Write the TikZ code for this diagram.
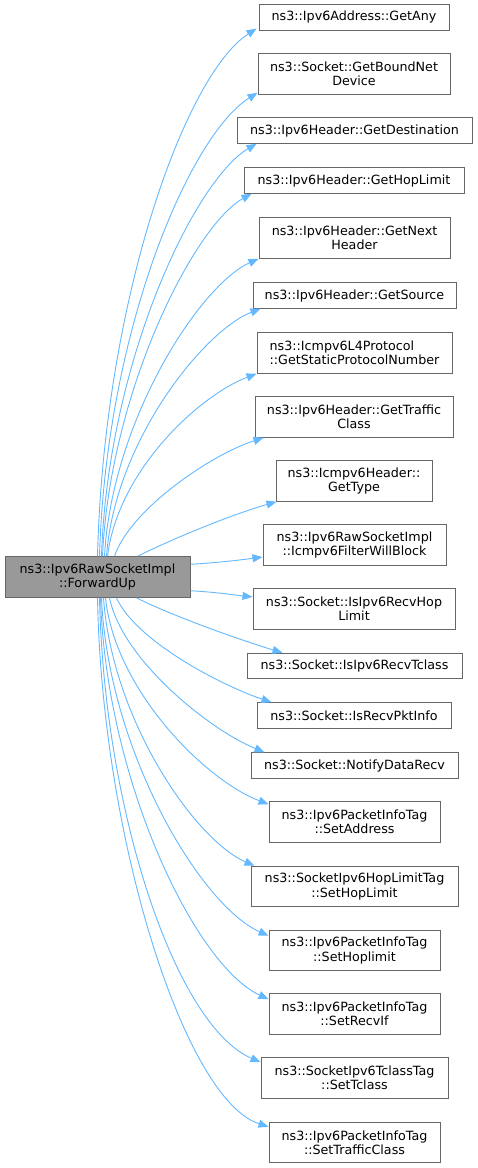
\documentclass[tikz,border=0pt]{standalone}
\usepackage{fontspec}
\setmainfont{DejaVu Sans}
\usetikzlibrary{arrows.meta}
\definecolor{edgeblue}{HTML}{63B8FF}
\definecolor{boxgray}{HTML}{666666}
\definecolor{mainfill}{HTML}{999999}
\begin{document}
\begin{tikzpicture}[x=1pt,y=-1pt,
  fn/.style={draw=boxgray, line width=1pt, fill=white, inner sep=0pt, align=center,
    font=\fontsize{12.7}{14.3}\selectfont, minimum height=25.5pt},
  fn2/.style={fn, minimum height=40.5pt},
  mainbox/.style={fn2, fill=mainfill},
  call/.style={draw=edgeblue, line width=0.9pt, -{Triangle[length=10pt,width=8pt]}}]
\useasboundingbox (0,0) rectangle (477,1168);
\node[mainbox, minimum width=185pt] (main) at (97.5,577) {ns3::Ipv6RawSocketImpl\\::ForwardUp};
\node[fn,  minimum width=190pt] (n1)  at (354,17.25) {ns3::Ipv6Address::GetAny};
\node[fn2, minimum width=192pt] (n2)  at (354,74) {ns3::Socket::GetBoundNet\\Device};
\node[fn,  minimum width=235pt] (n3)  at (354.5,130.5) {ns3::Ipv6Header::GetDestination};
\node[fn,  minimum width=220pt] (n4)  at (354,180.5) {ns3::Ipv6Header::GetHopLimit};
\node[fn2, minimum width=191pt] (n5)  at (354.5,238) {ns3::Ipv6Header::GetNext\\Header};
\node[fn,  minimum width=203pt] (n6)  at (354.5,295.5) {ns3::Ipv6Header::GetSource};
\node[fn2, minimum width=195pt, align=left] (n7)  at (354.5,353) {ns3::Icmpv6L4Protocol\\::GetStaticProtocolNumber};
\node[fn2, minimum width=198pt] (n8)  at (354,417) {ns3::Ipv6Header::GetTraffic\\Class};
\node[fn2, minimum width=156pt] (n9)  at (354,481) {ns3::Icmpv6Header::\\GetType};
\node[fn2, minimum width=183pt] (n10) at (354.5,545) {ns3::Ipv6RawSocketImpl\\::Icmpv6FilterWillBlock};
\node[fn2, minimum width=202pt] (n11) at (354,609) {ns3::Socket::IsIpv6RecvHop\\Limit};
\node[fn,  minimum width=215pt] (n12) at (354.5,666) {ns3::Socket::IsIpv6RecvTclass};
\node[fn,  minimum width=194pt] (n13) at (354,715.5) {ns3::Socket::IsRecvPktInfo};
\node[fn,  minimum width=207pt] (n14) at (354.5,765.5) {ns3::Socket::NotifyDataRecv};
\node[fn2, minimum width=171pt] (n15) at (354.5,822) {ns3::Ipv6PacketInfoTag\\::SetAddress};
\node[fn2, minimum width=207pt] (n16) at (354.5,886.5) {ns3::SocketIpv6HopLimitTag\\::SetHopLimit};
\node[fn2, minimum width=171pt] (n17) at (354.5,950.5) {ns3::Ipv6PacketInfoTag\\::SetHoplimit};
\node[fn2, minimum width=171pt] (n18) at (354.5,1014) {ns3::Ipv6PacketInfoTag\\::SetRecvIf};
\node[fn2, minimum width=187pt] (n19) at (354.5,1078) {ns3::SocketIpv6TclassTag\\::SetTclass};
\node[fn2, minimum width=171pt] (n20) at (354.5,1142.5) {ns3::Ipv6PacketInfoTag\\::SetTrafficClass};
% upper calls
\draw[call] ([xshift=93pt]main.north west) .. controls (104,300) and (185,75) .. ([xshift=-2pt,yshift=2pt]n1.south west);
\draw[call] ([xshift=95pt]main.north west) .. controls (106,330) and (190,135) .. ([yshift=2pt]n2.south west);
\draw[call] ([xshift=97pt]main.north west) .. controls (108,360) and (195,180) .. ([xshift=20pt]n3.south west);
\draw[call] ([xshift=98pt]main.north west) .. controls (110,390) and (195,225) .. ([xshift=8pt]n4.south west);
\draw[call] ([xshift=100pt]main.north west) .. controls (112,420) and (200,285) .. (n5.south west);
\draw[call] ([xshift=102pt]main.north west) .. controls (115,440) and (205,330) .. ([xshift=8pt]n6.south west);
\draw[call] ([xshift=103pt]main.north west) .. controls (118,470) and (200,395) .. (n7.south west);
\draw[call] ([xshift=110pt]main.north west) .. controls (130,510) and (210,455) .. ([xshift=9pt]n8.south west);
\draw[call] ([xshift=133pt]main.north west) .. controls (170,540) and (230,515) .. ([xshift=1pt]n9.south west);
\draw[call] ([yshift=-8pt]main.north east) .. controls (215,563) and (240,560) .. ([yshift=-12pt]n10.west);
\draw[call] ([yshift=7pt]main.south east) .. controls (215,592) and (235,595) .. ([yshift=12pt]n11.west);
% lower calls
\draw[call] ([xshift=132pt]main.south west) .. controls (170,615) and (240,640) .. ([xshift=36pt]n12.north west);
\draw[call] ([xshift=112pt]main.south west) .. controls (135,640) and (220,685) .. ([xshift=15pt]n13.north west);
\draw[call] ([xshift=105pt]main.south west) .. controls (122,660) and (210,730) .. ([xshift=14pt]n14.north west);
\draw[call] ([xshift=101pt]main.south west) .. controls (115,690) and (205,780) .. ([yshift=-3pt]n15.north west);
\draw[call] ([xshift=99pt]main.south west) .. controls (112,720) and (195,840) .. ([xshift=4pt]n16.north west);
\draw[call] ([xshift=97pt]main.south west) .. controls (108,750) and (200,905) .. ([yshift=-6pt]n17.north west);
\draw[call] ([xshift=96pt]main.south west) .. controls (106,780) and (195,965) .. ([yshift=-6pt]n18.north west);
\draw[call] ([xshift=95pt]main.south west) .. controls (104,810) and (175,1025) .. ([yshift=-5pt]n19.north west);
\draw[call] ([xshift=93pt]main.south west) .. controls (102,840) and (185,1100) .. ([yshift=-5pt]n20.north west);
\end{tikzpicture}
\end{document}
